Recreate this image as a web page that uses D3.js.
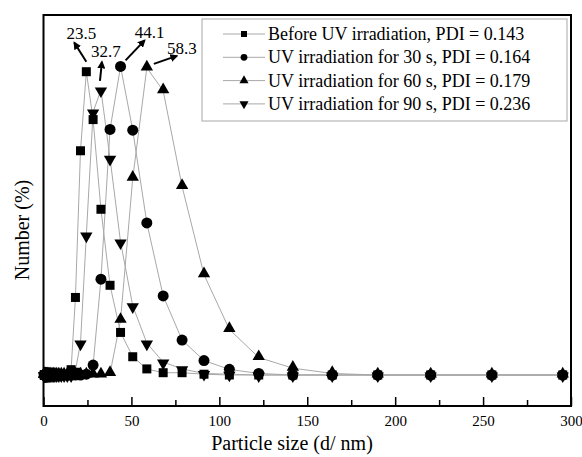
<!DOCTYPE html>
<html>
<head>
<meta charset="utf-8">
<script src="https://cdn.jsdelivr.net/npm/d3@7"></script>
<style>
  body { margin: 0; background: #fff; }
  svg text { font-family: "Liberation Serif", "Times New Roman", serif; }
</style>
</head>
<body>
<div id="chart"></div>
<script>
// tailles des classes (d / nm)
var sizes = [0.4, 0.4632, 0.5365, 0.6213, 0.7195, 0.8332, 0.9649, 1.117, 1.294, 1.499,
  1.736, 2.01, 2.328, 2.696, 3.122, 3.615, 4.187, 4.849, 5.615, 6.503,
  7.531, 8.721, 10.1, 11.7, 13.54,
  15.69, 18.17, 21.04, 24.36, 28.21, 32.67, 37.84, 43.82, 50.75, 58.77,
  68.06, 78.82, 91.28, 105.7, 122.4, 141.8, 164.2, 190.1, 220.2, 255, 295.3];

var before = [0,0,0,0,0,0,0,0,0,0, 0,0,0,0,0,0,0,0,0,0, 0,0,0,0,0,
  0.35, 5.1, 14.75, 19.95, 16.8, 10.9, 5.9, 2.8, 1.2, 0.4,
  0.15, 0.15, 0.05, 0, 0, 0, 0, 0, 0, 0, 0];
var uv30 = [0,0,0,0,0,0,0,0,0,0, 0,0,0,0,0,0,0,0,0,0, 0,0,0,0,0,
  0, 0, 0, 0.05, 0.65, 6.3, 16.15, 20.3, 16.1, 10.0,
  5.2, 2.3, 0.95, 0.37, 0.1, 0, 0, 0, 0, 0, 0];
var uv60 = [0,0,0,0,0,0,0,0,0,0, 0,0,0,0,0,0,0,0,0,0, 0,0,0,0,0,
  0, 0, 0, 0, 0, 0, 0.1, 3.6, 12.95, 20.2,
  18.7, 12.4, 6.6, 3.0, 1.15, 0.45, 0.1, 0, 0, 0, 0];
var uv90 = [0,0,0,0,0,0,0,0,0,0, 0,0,0,0,0,0,0,0,0,0, 0,0,0,0,0,
  0, 0.3, 2.1, 9.2, 17.3, 18.75, 14.25, 8.75, 4.55, 2.1,
  0.85, 0.4, 0.1, 0.05, 0, 0, 0, 0, 0, 0, 0];

var seriesNames = ["Before UV irradiation, PDI = 0.143", "UV irradiation for 30 s, PDI = 0.164",
  "UV irradiation for 60 s, PDI = 0.179", "UV irradiation for 90 s, PDI = 0.236"];
var seriesValues = [before, uv30, uv60, uv90];
var seriesSymbols = [d3.symbolSquare, d3.symbolCircle, d3.symbolTriangle, d3.symbolTriangle];

var peakLabels = ["23.5", "32.7", "44.1", "58.3"];   // tailles moyennes
var peakSeries = [0, 3, 1, 2];

var xTicks = [0, 50, 100, 150, 200, 250, 300];
var xMinorTicks = [25, 75, 125, 175, 225, 275];

var width = 582, height = 457;
var margin = {top: 15, right: 11, bottom: 51, left: 43.5};
var serif = "'Liberation Serif', 'Times New Roman', serif";

var svg = d3.select("#chart").append("svg")
  .attr("width", width)
  .attr("height", height);

var x = d3.scaleLinear().domain([0, 300]).range([margin.left, width - margin.right]);
var y = d3.scaleLinear().domain([-2.04, 23.68]).range([height - margin.bottom, margin.top]);

var sym = function(i, size) {
  var s = d3.symbol().type(seriesSymbols[i]).size(size);
  return s();
};
var symSizes = [81, 95, 66, 66];

// courbes
var line = d3.line()
  .x(function(d) { return x(d[0]); })
  .y(function(d) { return y(d[1]); });

seriesValues.forEach(function(vals, i) {
  var pts = sizes.map(function(s, k) { return [s, vals[k]]; });
  svg.append("path")
    .datum(pts)
    .attr("d", line)
    .attr("fill", "none")
    .attr("stroke", "#a8a8a8")
    .attr("stroke-width", 1);
});

seriesValues.forEach(function(vals, i) {
  var pts = sizes.map(function(s, k) { return [s, vals[k]]; });
  svg.append("g").selectAll("path")
    .data(pts)
    .enter().append("path")
    .attr("d", sym(i, symSizes[i]))
    .attr("fill", "#000")
    .attr("transform", function(d) {
      var rot = i === 3 ? " rotate(180)" : "";
      var dy = i === 2 ? -1 : (i === 3 ? 1 : 0);
      return "translate(" + x(d[0]) + "," + (y(d[1]) + dy) + ")" + rot;
    });
});

// cadre
svg.append("rect")
  .attr("x", x(0)).attr("y", y.range()[1])
  .attr("width", x(300) - x(0))
  .attr("height", y.range()[0] - y.range()[1])
  .attr("fill", "none")
  .attr("stroke", "#000")
  .attr("stroke-width", 2);

// axe x (graduations vers l'intérieur)
var xAxis = svg.append("g")
  .attr("transform", "translate(0," + y.range()[0] + ")")
  .call(d3.axisBottom(x).tickValues(xTicks).tickSizeInner(-9).tickSizeOuter(0).tickPadding(9));
xAxis.attr("font-family", serif);
xAxis.select(".domain").remove();
xAxis.selectAll("line").attr("stroke-width", 1.5);
xAxis.selectAll("text")
  .style("font-family", serif)
  .attr("font-size", 15)
  .attr("fill", "#000");

svg.append("g")
  .attr("transform", "translate(0," + y.range()[0] + ")")
  .call(d3.axisBottom(x).tickValues(xMinorTicks).tickSizeInner(-6).tickFormat(""))
  .call(function(g) { g.select(".domain").remove(); g.selectAll("line").attr("stroke-width", 1.5); });

// titres des axes
svg.append("text")
  .attr("x", 292).attr("y", 450)
  .attr("text-anchor", "middle")
  .style("font-family", serif)
  .attr("font-size", 20)
  .text("Particle size (d/ nm)");

svg.append("text")
  .attr("transform", "translate(29,230) rotate(-90)")
  .attr("text-anchor", "middle")
  .style("font-family", serif)
  .attr("font-size", 20)
  .text("Number (%)");

// annotations des pics avec flèches
var defs = svg.append("defs");
defs.append("marker")
  .attr("id", "arrow")
  .attr("viewBox", "0 0 10 10")
  .attr("refX", 8).attr("refY", 5)
  .attr("markerWidth", 4).attr("markerHeight", 4)
  .attr("orient", "auto")
  .append("path").attr("d", "M0,0 L10,5 L0,10 z").attr("fill", "#000");

var annOffsets = [
  {sx: 0, sy: -10, ex: -12, ey: -29, lx: -5, ly: -33},
  {sx: -1, sy: -9, ex: 1, ey: -28, lx: 5, ly: -33},
  {sx: 5, sy: -6, ex: 24, ey: -26, lx: 29, ly: -28},
  {sx: 7, sy: -4, ex: 30, ey: -12, lx: 35, ly: -14}
];

peakLabels.forEach(function(lab, i) {
  var vals = seriesValues[peakSeries[i]];
  var k = d3.maxIndex(vals);
  var px = x(sizes[k]), py = y(vals[k]);
  var o = annOffsets[i];
  svg.append("line")
    .attr("x1", px + o.sx).attr("y1", py + o.sy)
    .attr("x2", px + o.ex).attr("y2", py + o.ey)
    .attr("stroke", "#000").attr("stroke-width", 2)
    .attr("marker-end", "url(#arrow)");
  svg.append("text")
    .attr("x", px + o.lx).attr("y", py + o.ly)
    .attr("text-anchor", "middle")
    .style("font-family", serif)
    .attr("font-size", 17)
    .text(lab);
});

// légende
var legend = svg.append("g").attr("transform", "translate(202,19)");
legend.append("rect")
  .attr("width", 365).attr("height", 102)
  .attr("fill", "#fff")
  .attr("stroke", "#a8a8a8")
  .attr("stroke-width", 1);

seriesNames.forEach(function(name, i) {
  var row = legend.append("g").attr("transform", "translate(0," + (15 + i * 23.3) + ")");
  row.append("line")
    .attr("x1", 21).attr("x2", 63)
    .attr("stroke", "#a8a8a8").attr("stroke-width", 1);
  row.append("path")
    .attr("d", sym(i, 36))
    .attr("transform", "translate(42,0)" + (i === 3 ? " rotate(180)" : ""))
    .attr("fill", "#000");
  row.append("text")
    .attr("x", 66).attr("y", 6)
    .style("font-family", serif)
    .attr("font-size", 18)
    .text(name);
});
</script>
</body>
</html>
